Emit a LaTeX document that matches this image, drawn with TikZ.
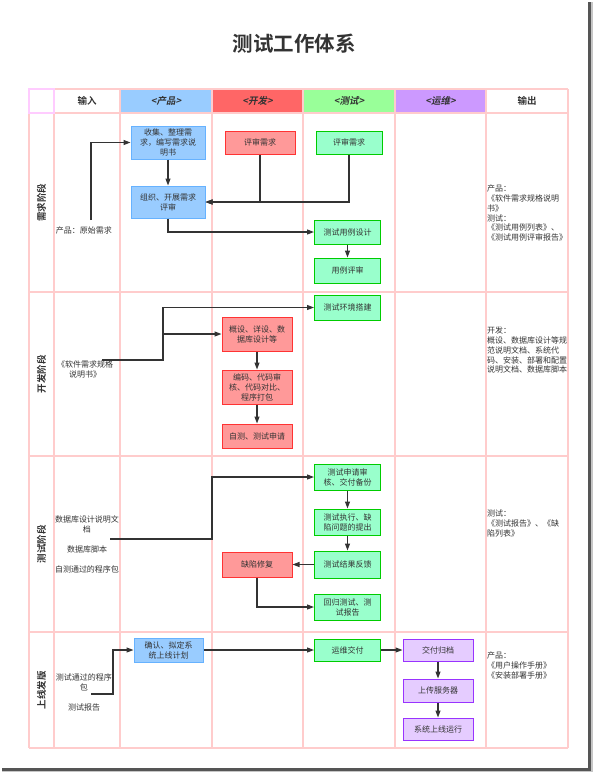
\documentclass[tikz,border=0pt]{standalone}
\usepackage{fontspec}
\setmainfont{Noto Sans CJK SC}[BoldFont={Noto Sans CJK SC Bold}]
\newfontfamily\headfont{Noto Sans CJK SC Bold}[FakeSlant=0.2]
\usetikzlibrary{arrows.meta}
\definecolor{gridpink}{HTML}{FFCCCC}
\definecolor{gridlav}{HTML}{FFCCFF}
\definecolor{linegray}{HTML}{333333}
\definecolor{txtgray}{HTML}{333333}
\definecolor{hblue}{HTML}{99CCFF}
\definecolor{hred}{HTML}{FF6666}
\definecolor{hgreen}{HTML}{99FF99}
\definecolor{hpurple}{HTML}{CC99FF}
\definecolor{pfill}{HTML}{99CCFF}
\definecolor{pdraw}{HTML}{66B2FF}
\definecolor{dfill}{HTML}{FF9999}
\definecolor{ddraw}{HTML}{FF3333}
\definecolor{tfill}{HTML}{99FFCC}
\definecolor{tdraw}{HTML}{00CC00}
\definecolor{ofill}{HTML}{E5CCFF}
\definecolor{odraw}{HTML}{9933FF}
\definecolor{shadowgray}{HTML}{555555}

\begin{document}
\begin{tikzpicture}[x=1pt,y=-1pt,
  >={Triangle[length=7pt,width=5pt]},
  conn/.style={draw=linegray, line width=1.1pt},
  box/.style={draw, line width=1pt, inner sep=1pt, align=center, text=txtgray, font=\fontsize{8}{10}\selectfont},
  pbox/.style={box, fill=pfill, draw=pdraw, minimum width=74pt},
  dbox/.style={box, fill=dfill, draw=ddraw, minimum width=70pt},
  tbox/.style={box, fill=tfill, draw=tdraw, minimum width=66pt},
  obox/.style={box, fill=ofill, draw=odraw, minimum width=70pt},
  hdr/.style={minimum height=24pt, inner sep=0pt, text=txtgray, font=\bfseries\fontsize{9.5}{10}\selectfont},
  hdrit/.style={hdr, font=\headfont\fontsize{9.5}{10}\selectfont},
  phase/.style={rotate=90, inner sep=0pt, text=txtgray, font=\bfseries\fontsize{9.5}{10}\selectfont},
  intxt/.style={inner sep=0pt, align=center, text=txtgray, font=\fontsize{8}{10}\selectfont},
  outtxt/.style={anchor=north west, inner sep=0pt, align=left, text=txtgray, font=\fontsize{8}{9.7}\selectfont}]
\useasboundingbox (0,0) rectangle (593,772);
\fill[shadowgray] (588,2) rectangle (591,771);
\fill[shadowgray] (2,768) rectangle (591,771);
\fill[gray!45] (591,2) rectangle (593,772);
\fill[gray!45] (2,771) rectangle (593,772);

\node[font=\bfseries\fontsize{20.5}{20.5}\selectfont, text=txtgray] (title) at (294,44) {测试工作体系};

\node[hdr, minimum width=31pt] (h0) at (41.5,101) {};
\node[hdr, minimum width=66pt] (hin) at (87,101) {输入};
\node[hdrit, fill=hblue, minimum width=92pt] (hp) at (166,101) {<产品>};
\node[hdrit, fill=hred, minimum width=91pt] (hd) at (257.5,101) {<开发>};
\node[hdrit, fill=hgreen, minimum width=92pt] (ht) at (349,101) {<测试>};
\node[hdrit, fill=hpurple, minimum width=91pt] (ho) at (440.5,101) {<运维>};
\node[hdr, minimum width=82pt] (hout) at (527,101) {输出};

\draw[gridpink, line width=1.5pt] (29,89) -- (568,89) (29,113) -- (568,113) (29,292) -- (568,292) (29,456) -- (568,456) (29,632) -- (568,632) (29,748) -- (568,748);
\draw[gridpink, line width=1.5pt] (29,89) -- (29,748) (54,89) -- (54,748) (120,89) -- (120,748) (212,89) -- (212,748) (303,89) -- (303,748) (395,89) -- (395,748) (486,89) -- (486,748) (568,89) -- (568,748);
\draw[gridlav, line width=1.5pt] (29,89) rectangle (54,113);

\node[phase] (r1) at (41.5,202.5) {需求阶段};
\node[phase] (r2) at (41.5,374) {开发阶段};
\node[phase] (r3) at (41.5,544) {测试阶段};
\node[phase] (r4) at (41.5,690) {上线发版};

\node[intxt] (in1) at (84,230) {产品：原始需求};
\node[intxt] (in2) at (85,369) {《软件需求规格\\说明书》};
\node[intxt] (in3a) at (87,524) {数据库设计说明文\\档};
\node[intxt] (in3b) at (87,549) {数据库脚本};
\node[intxt] (in3c) at (87,569) {自测通过的程序包};
\node[intxt] (in4a) at (84,682) {测试通过的程序\\包};
\node[intxt] (in4b) at (84,707) {测试报告};

\node[pbox, minimum height=33pt] (p1) at (168,142.5) {收集、整理需\\求，编写需求说\\明书};
\node[pbox, minimum height=32pt] (p2) at (168,202) {组织、开展需求\\评审};
\node[dbox, minimum height=23pt] (d1) at (260,142.5) {评审需求};
\node[tbox, minimum height=23pt] (t1) at (349,142.5) {评审需求};
\node[tbox, minimum height=24pt] (t2) at (347.5,232) {测试用例设计};
\node[tbox, minimum height=25pt] (t3) at (347.5,270.5) {用例评审};

\node[tbox, minimum height=25pt] (t4) at (347.5,307.5) {测试环境搭建};
\node[dbox, minimum height=34pt] (d2) at (257,334) {概设、详设、数\\据库设计等};
\node[dbox, minimum height=34pt] (d3) at (257,387) {编码、代码审\\核、代码对比、\\程序打包};
\node[dbox, minimum height=24pt] (d4) at (257,436) {自测、测试申请};

\node[tbox, minimum height=26pt] (t5) at (347.5,477) {测试申请审\\核、交付备份};
\node[tbox, minimum height=26pt] (t6) at (347.5,522) {测试执行、缺\\陷问题的提出};
\node[tbox, minimum height=27pt] (t7) at (347.5,564.5) {测试结果反馈};
\node[dbox, minimum height=25pt] (d5) at (257,564.5) {缺陷修复};
\node[tbox, minimum height=26pt] (t8) at (347.5,607) {回归测试、测\\试报告};

\node[pbox, minimum width=69pt, minimum height=24pt] (p3) at (168.5,650) {确认、拟定系\\统上线计划};
\node[tbox, minimum height=22pt] (t9) at (347.5,650) {运维交付};
\node[obox, minimum height=22pt] (o1) at (438,650) {交付归档};
\node[obox, minimum height=23pt] (o2) at (438,690.5) {上传服务器};
\node[obox, minimum height=22pt] (o3) at (438,729) {系统上线运行};

\node[outtxt] (out1) at (487,185) {产品：\\《软件需求规格说明\\书》\\测试：\\《测试用例列表》、\\《测试用例评审报告》};
\node[outtxt] (out2) at (487,327) {开发：\\概设、数据库设计等规\\范说明文档、系统代\\码、安装、部署和配置\\说明文档、数据库脚本};
\node[outtxt] (out3) at (487,510) {测试：\\《测试报告》、《缺\\陷列表》};
\node[outtxt] (out4) at (487,652) {产品：\\《用户操作手册》\\《安装部署手册》};

\coordinate (s1) at (91,220);
\coordinate (s2) at (102,360);
\coordinate (j2) at (163,360);
\coordinate (s3) at (110,539);
\coordinate (j3) at (212,539);
\coordinate (s4) at (91,694);
\coordinate (j4) at (113,694);

\draw[conn,->] (s1) |- (p1.west);
\draw[conn,->] (p1) -- (p2);
\draw[conn,->] (d1.south) |- (p2.east);
\draw[conn,->] (t1.south) |- (p2.east);
\draw[conn,->] (p2.south) |- (t2.west);
\draw[conn,->] (t2) -- (t3);

\draw[conn,->] (s2) -- (j2) |- (t4.west);
\draw[conn,->] (j2) |- (d2.west);
\draw[conn,->] (d2) -- (d3);
\draw[conn,->] (d3) -- (d4);

\draw[conn,->] (s3) -- (j3) |- (t5.west);
\draw[conn,->] (t5) -- (t6);
\draw[conn,->] (t6) -- (t7);
\draw[conn,->] (t7) -- (d5);
\draw[conn,->] (d5.south) |- (t8.west);

\draw[conn,->] (s4) -- (j4) |- (p3.west);
\draw[conn,->] (p3) -- (t9);
\draw[conn,->] (t9) -- (o1);
\draw[conn,->] (o1) -- (o2);
\draw[conn,->] (o2) -- (o3);
\end{tikzpicture}
\end{document}
